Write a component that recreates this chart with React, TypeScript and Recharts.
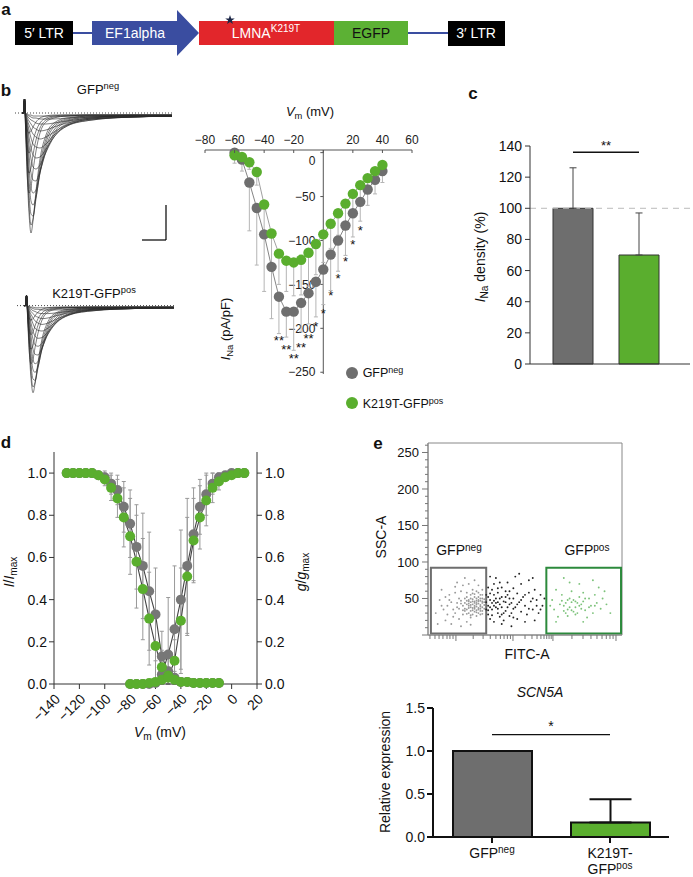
import React from 'react';
import {
  ComposedChart, LineChart, BarChart, ScatterChart, Line, Bar, Scatter, Cell,
  XAxis, YAxis, ErrorBar, ReferenceLine, ReferenceArea,
} from 'recharts';

const FONT = '"Liberation Sans", Arial, Helvetica, sans-serif';
const GREY = '#6e6e6e';
const GREEN = '#5aae2e';

// b: current sweeps (time in ms-ish units, current in arbitrary units)
const sweepTime = [0, 1.5, 2.5, 3.5, 5, 7, 9, 11, 14, 18, 24, 32, 45, 70, 110, 150];
const sweeps = [
  [0, 0, 14, -8, -55, -100, -120, -108, -78, -46, -22, -10, -5, -3, -3, -3],
  [0, 0, 14, -6, -45, -92, -112, -106, -82, -52, -26, -12, -6, -3, -3, -3],
  [0, 0, 14, -5, -38, -80, -101, -103, -86, -58, -30, -14, -7, -4, -3, -3],
  [0, 0, 14, -4, -30, -66, -88, -92, -84, -60, -34, -17, -8, -4, -3, -3],
  [0, 0, 14, -3, -24, -54, -74, -80, -77, -60, -37, -20, -9, -5, -3, -3],
  [0, 0, 14, -2, -18, -42, -60, -67, -68, -58, -39, -22, -11, -5, -3, -3],
  [0, 0, 14, -2, -14, -32, -46, -54, -56, -52, -39, -24, -12, -6, -4, -3],
  [0, 0, 14, -1, -10, -24, -35, -42, -45, -44, -36, -24, -13, -6, -4, -3],
  [0, 0, 14, -1, -8, -17, -25, -31, -34, -35, -31, -22, -13, -7, -4, -3],
  [0, 0, 14, 0, -6, -12, -17, -21, -24, -26, -24, -19, -12, -7, -4, -3],
  [0, 0, 14, 0, -4, -8, -11, -14, -16, -18, -17, -14, -10, -6, -4, -3],
  [0, 0, 14, 0, -3, -5, -7, -8, -10, -11, -11, -10, -8, -5, -4, -3],
  [0, 0, 14, 0, -2, -3, -4, -5, -5, -6, -6, -6, -5, -4, -3, -3],
  [0, 0, 14, 0, -1, -2, -2, -3, -3, -3, -3, -3, -3, -3, -2, -2],
  [0, 0, 14, -14, -58, -80, -74, -58, -38, -20, -9, -5, -3, -2, -2, -2],
  [0, 0, 14, -12, -45, -60, -55, -42, -27, -15, -7, -4, -3, -2, -2, -2],
  [0, 0, 14, -10, -32, -40, -36, -28, -18, -10, -5, -3, -2, -2, -2, -2],
  [0, 0, 14, -6, -16, -20, -18, -14, -9, -5, -3, -2, -2, -2, -2, -2],
];

// b: I-V relation
const ivVoltage = [-60, -55, -50, -45, -40, -35, -30, -25, -20, -15, -10, -5, 0, 5, 10, 15, 20, 25, 30, 35, 40];
const ivGfpNeg = [0, -8, -34, -63, -93, -130, -164, -181, -181, -171, -160, -147, -133, -116, -100, -83, -69, -56, -42, -31, -21];
const ivGfpNegSd = [12, 13, 55, 65, 65, 59, 42, 29, 44, 33, 35, 40, 40, 41, 35, 34, 27, 22, 18, 16, 13];
const ivK219T = [-3, -5, -11, -22, -59, -92, -115, -123, -125, -122, -114, -104, -93, -81, -69, -58, -47, -37, -29, -21, -14];
const ivK219TSd = [4, 5, 8, 15, 35, 40, 35, 35, 38, 40, 38, 35, 32, 28, 25, 22, 18, 14, 10, 8, 6];
const ivStarV = [-30, -25, -20, -15, -10, -5, 0, 5, 10, 15, 20, 25];
const ivStarY = [-211, -221, -231, -219, -209, -195, -180, -160, -140, -121, -102, -86];
const ivStarText = ['**', '**', '**', '**', '**', '*', '*', '*', '*', '*', '*', '*'];
const ivXTicks = [-80, -60, -40, -20, 0, 20, 40, 60];
const ivYTicks = [0, -50, -100, -150, -200, -250];

// c: current density
const densityGroups = ['GFPneg', 'K219T'];
const densityMean = [100, 70];
const densitySd = [26, 27];

// d: inactivation / activation
const inactV = [-130, -125, -120, -115, -110, -105, -100, -95, -90, -85, -80, -75, -70, -65, -60, -55, -50, -45, -40, -35, -30, -25, -20, -15, -10];
const inactGfpNeg = [1, 1, 1, 1, 1, 0.99, 0.98, 0.95, 0.92, 0.84, 0.76, 0.65, 0.56, 0.44, 0.33, 0.13, 0.06, 0.03, 0.01, 0.01, 0.005, 0.005, 0.005, 0.005, 0.005];
const inactGfpNegSd = [0, 0, 0, 0, 0, 0.01, 0.03, 0.05, 0.07, 0.12, 0.16, 0.2, 0.25, 0.28, 0.22, 0.12, 0.06, 0.03, 0.01, 0.01, 0, 0, 0, 0, 0];
const inactK219T = [1, 1, 1, 1, 1, 0.99, 0.97, 0.93, 0.88, 0.79, 0.7, 0.58, 0.45, 0.31, 0.18, 0.08, 0.04, 0.02, 0.01, 0.01, 0.005, 0.005, 0.005, 0.005, 0.005];
const inactK219TSd = [0, 0, 0, 0, 0.01, 0.01, 0.03, 0.06, 0.09, 0.14, 0.18, 0.22, 0.24, 0.22, 0.16, 0.08, 0.04, 0.02, 0.01, 0.01, 0, 0, 0, 0, 0];
const actV = [-80, -75, -70, -65, -60, -55, -50, -45, -40, -35, -30, -25, -20, -15, -10, -5, 0, 5, 10];
const actGfpNeg = [0, 0, 0, 0, 0.005, 0.045, 0.14, 0.26, 0.4, 0.56, 0.71, 0.84, 0.9, 0.95, 0.98, 0.99, 1, 1, 1];
const actGfpNegSd = [0, 0, 0, 0, 0.005, 0.04, 0.27, 0.3, 0.33, 0.32, 0.22, 0.13, 0.1, 0.05, 0.02, 0.01, 0, 0, 0];
const actK219T = [0, 0, 0, 0.005, 0.01, 0.02, 0.03, 0.11, 0.3, 0.51, 0.68, 0.79, 0.87, 0.93, 0.96, 0.98, 0.99, 1, 1];
const actK219TSd = [0, 0, 0, 0.005, 0.01, 0.02, 0.03, 0.1, 0.25, 0.28, 0.2, 0.15, 0.12, 0.07, 0.04, 0.02, 0.01, 0, 0];
const dXTicks = [-140, -120, -100, -80, -60, -40, -20, 0, 20];
const dYTicks = [0, 0.2, 0.4, 0.6, 0.8, 1.0];

// e: flow cytometry events [FITC-A, SSC-A]
const eventsNeg = [
  [24, 40], [25, 44], [23, 37], [26, 48], [27, 41], [22, 45], [25, 34], [28, 38], [21, 40], [24, 52], [26, 30], [27, 55],
  [23, 28], [29, 45], [20, 35], [22, 50], [25, 60], [28, 50], [19, 44], [26, 37], [24, 46], [27, 33], [21, 30], [23, 57],
  [28, 29], [25, 26], [20, 52], [22, 38], [26, 43], [29, 36], [18, 40], [24, 32], [27, 47], [21, 48], [23, 42], [15, 38],
  [16, 50], [14, 30], [17, 60], [12, 45], [13, 25], [10, 40], [16, 22], [18, 68], [11, 55], [8, 35], [9, 20], [6, 48],
  [15, 72], [19, 78], [12, 15], [20, 18], [17, 12], [7, 62], [4, 30], [21, 70], [14, 58], [10, 28], [26, 68], [24, 75],
  [22, 14], [28, 62], [5, 15], [19, 33], [17, 47], [20, 58], [25, 50], [22, 24], [18, 28], [16, 36],
  [19, 36], [20, 42], [21, 46], [22, 33], [23, 49], [24, 38], [25, 42], [26, 35], [27, 39], [28, 44], [29, 41], [20, 47],
  [21, 37], [22, 55], [23, 34], [24, 44], [25, 47], [26, 52], [27, 36], [28, 33], [19, 50], [21, 43], [22, 41], [23, 46],
  [24, 36], [25, 39], [26, 46], [27, 50], [28, 46], [29, 49], [18, 34], [20, 29], [22, 27], [24, 56], [26, 58], [28, 55],
  [17, 43], [23, 62], [25, 31], [27, 28], [13, 35], [11, 48], [15, 44], [9, 52], [14, 66], [7, 40],
];
const eventsMid = [
  [31, 40], [32, 48], [33, 35], [34, 55], [31, 28], [35, 44], [36, 30], [33, 62], [37, 50], [32, 22], [38, 38], [34, 70],
  [39, 46], [36, 58], [31, 52], [40, 33], [37, 25], [41, 55], [35, 38], [38, 65], [42, 42], [33, 44], [30, 35], [39, 20],
  [43, 30], [44, 50], [36, 45], [40, 60], [45, 38], [46, 57], [42, 26], [47, 45], [48, 32], [41, 72], [49, 52], [50, 40],
  [44, 64], [51, 28], [52, 58], [53, 46], [46, 22], [54, 35], [55, 62], [48, 70], [56, 48], [57, 30], [58, 55], [52, 75],
  [59, 40], [35, 78], [38, 15], [45, 80], [31, 65], [34, 18], [50, 18], [43, 12], [55, 20], [60, 50], [32, 80], [47, 84],
  [37, 72], [54, 78],
  [30, 45], [31, 34], [32, 57], [33, 27], [34, 40], [35, 50], [36, 36], [37, 42], [38, 52], [39, 30], [40, 45], [41, 38],
  [42, 50], [43, 44], [44, 36], [30, 55], [32, 38], [34, 47], [36, 64], [38, 28], [40, 52], [42, 60], [44, 24], [46, 42],
  [48, 48], [50, 55], [52, 36], [54, 50], [56, 40], [58, 35],
];
const eventsPos = [
  [70, 40], [72, 35], [74, 45], [76, 38], [71, 30], [73, 50], [75, 32], [77, 44], [79, 36], [78, 52], [68, 42], [69, 55],
  [72, 26], [74, 60], [76, 28], [80, 46], [81, 34], [83, 50], [82, 24], [84, 40], [86, 55], [85, 30], [87, 44], [89, 36],
  [90, 50], [65, 35], [64, 48], [66, 62], [67, 25], [63, 40], [88, 65], [78, 70], [73, 72], [92, 42], [94, 30], [91, 60],
  [66, 18], [80, 18], [85, 75], [70, 78],
  [71, 44], [73, 38], [75, 48], [77, 30], [79, 42], [81, 50], [76, 46], [72, 48], [74, 34], [78, 40], [83, 38], [70, 33],
  [69, 47], [80, 58], [86, 40],
];
const fitcMajor = [14.4, 43.8, 64.4, 96.9];
const fitcMinor = [1, 3.6, 5.7, 7.7, 9.8, 11.3, 12.9, 23.3, 28.4, 32.1, 35, 37.3, 39.2, 40.9, 42.5,
  50, 53.6, 56.2, 58.2, 59.8, 61.2, 62.4, 63.5, 74.2, 79.9, 84, 87.1, 89.7, 91.9, 93.8, 95.4];
const sscTicks = [0, 10, 20, 30, 40, 50, 60, 70, 80, 90, 100, 110, 120, 130, 140, 150, 160, 170, 180, 190, 200, 210, 220, 230, 240, 250, 260];

// e: SCN5A qPCR
const exprGroups = ['GFPneg', 'K219T'];
const exprMean = [1.0, 0.17];
const exprSd = [0, 0.27];

const fmt = (v: number) => String(v).replace('-', '\u2212');

const sweepRows = sweepTime.map((t, i) => {
  const row: any = { t };
  sweeps.forEach((s, k) => { row['s' + k] = s[i]; });
  return row;
});
const ivRows = (vals: number[], sds: number[]) => ivVoltage.map((v, k) => ({ v, i: vals[k], e: [sds[k], 0] }));
const starRows = ivStarV.map((v, k) => ({ v, i: ivStarY[k], s: ivStarText[k] }));
// error bars are not drawn below zero
const dRows = (vs: number[], ys: number[], sds: number[]) =>
  vs.map((v, k) => ({ v, y: ys[k], e: [Math.min(sds[k], ys[k]), sds[k]] }));
const evRows = (pts: number[][]) => pts.map(([x, y]) => ({ x, y }));
const densityRows = densityGroups.map((name, k) => ({ name, val: densityMean[k], err: [0, densitySd[k]] }));
const exprRows = exprGroups.map((name, k) => ({ name, val: exprMean[k], err: exprSd[k] ? [0, exprSd[k]] : null }));

const Sub = ({ children }: any) => <span style={{ fontSize: '0.72em', verticalAlign: '-0.3em' }}>{children}</span>;
const Sup = ({ children }: any) => <span style={{ fontSize: '0.72em', verticalAlign: '0.45em' }}>{children}</span>;

function Txt({ x, y, size = 13, bold = false, italic = false, rotate = false, children }: any) {
  return (
    <div style={{
      position: 'absolute', left: x, top: y, fontSize: size, lineHeight: 1, whiteSpace: 'nowrap',
      fontWeight: bold ? 700 : 400, fontStyle: italic ? 'italic' : 'normal',
      transform: 'translate(-50%, -50%)' + (rotate ? ' rotate(-90deg)' : ''),
    }}>{children}</div>
  );
}

const Box = ({ x, y, children }: any) => <div style={{ position: 'absolute', left: x, top: y }}>{children}</div>;

function Construct() {
  const blue = '#3a4da0';
  return (
    <svg width={520} height={62} style={{ position: 'absolute', left: 0, top: 0 }} fontSize={14}>
      <line x1={73} y1={33} x2={92} y2={33} stroke={blue} strokeWidth={2} />
      <line x1={408} y1={33} x2={448} y2={33} stroke={blue} strokeWidth={2} />
      <rect x={15} y={21} width={58} height={24} fill="#000" />
      <text x={44} y={38} fill="#fff" textAnchor="middle">5′ LTR</text>
      <polygon points="92,21 177,21 177,10 199,33 177,56 177,45 92,45" fill={blue} />
      <text x={135} y={38} fill="#fff" textAnchor="middle">EF1alpha</text>
      <rect x={199} y={21} width={135} height={24} fill="#e2262b" />
      <text x={266} y={38} fill="#fff" textAnchor="middle">LMNA<tspan dy={-6} fontSize={10}>K219T</tspan></text>
      <polygon transform="translate(230 20)" fill="#1d2747"
        points="0,-5 1.18,-1.62 4.76,-1.55 1.9,0.62 2.94,4.05 0,2 -2.94,4.05 -1.9,0.62 -4.76,-1.55 -1.18,-1.62" />
      <rect x={334} y={21} width={74} height={24} fill="#5cb134" />
      <text x={371} y={38} fill="#111" textAnchor="middle">EGFP</text>
      <rect x={448} y={21} width={57} height={25} fill="#000" />
      <text x={476} y={38} fill="#fff" textAnchor="middle">3′ LTR</text>
    </svg>
  );
}

function Sweeps({ height, scaleBar }: { height: number; scaleBar?: boolean }) {
  return (
    <LineChart width={157} height={height} data={sweepRows} margin={{ top: 0, right: 0, bottom: 0, left: 0 }}>
      <XAxis type="number" dataKey="t" domain={[-7, 150]} hide />
      <YAxis type="number" domain={[-130, 16]} hide />
      <ReferenceLine y={0} stroke="#444" strokeDasharray="1 2" />
      {sweeps.map((_, k) => (
        <Line key={k} dataKey={'s' + k} type="monotone" stroke="#2a2a2a" strokeWidth={0.6}
          dot={false} activeDot={false} isAnimationActive={false} />
      ))}
      {scaleBar && <ReferenceLine segment={[{ x: 144, y: -92 }, { x: 144, y: -127 }]} stroke="#000" strokeWidth={1.2} ifOverflow="visible" />}
      {scaleBar && <ReferenceLine segment={[{ x: 120, y: -127 }, { x: 144, y: -127 }]} stroke="#000" strokeWidth={1.2} ifOverflow="visible" />}
    </LineChart>
  );
}

function IvXTick({ x, y, payload }: any) {
  return (
    <g>
      <line x1={x} y1={y} x2={x} y2={y + 3} stroke="#555" />
      {payload.value !== 0 && (
        <text x={x} y={y - 6.5} textAnchor="middle" fontSize={12} fill="#222">{fmt(payload.value)}</text>
      )}
    </g>
  );
}

const ivYLabel = (v: number) => (props: any) => {
  const vb = props.viewBox || { x: 0, y: 0 };
  return (
    <text x={vb.x - 5} y={vb.y + (v === 0 ? 8 : 0)} dy="0.35em" textAnchor="end" fontSize={12} fill="#222">{fmt(v)}</text>
  );
};

const starShape = (p: any) => (
  <text x={p.cx} y={p.cy + 7} textAnchor="middle" fontSize={13} fill="#111">{p.payload.s}</text>
);

function IvChart() {
  return (
    <ComposedChart width={230} height={310} margin={{ top: 30, right: 13, bottom: 36, left: 10 }}>
      <XAxis type="number" dataKey="v" orientation="top" domain={[-80, 60]} ticks={ivXTicks} interval={0}
        height={20} tickSize={0} tickMargin={0} tickLine={false} axisLine={{ stroke: '#555' }} tick={IvXTick} />
      <YAxis type="number" dataKey="i" domain={[-252, 3]} hide />
      <ReferenceLine x={0} stroke="#555" />
      {ivYTicks.map((t) => (
        <ReferenceLine key={t} segment={[{ x: -2, y: t }, { x: 0, y: t }]} stroke="#555" label={ivYLabel(t)} />
      ))}
      <Line data={ivRows(ivGfpNeg, ivGfpNegSd)} dataKey="i" stroke="#666" strokeWidth={0.8} isAnimationActive={false}
        dot={{ r: 5.2, fill: GREY, stroke: 'none' }} activeDot={false}>
        <ErrorBar dataKey="e" width={2} stroke="#b5b5b5" strokeWidth={1} />
      </Line>
      <Line data={ivRows(ivK219T, ivK219TSd)} dataKey="i" stroke="#888" strokeWidth={0.8} isAnimationActive={false}
        dot={{ r: 5.2, fill: GREEN, stroke: 'none' }} activeDot={false}>
        <ErrorBar dataKey="e" width={2} stroke="#b5b5b5" strokeWidth={1} />
      </Line>
      <Scatter data={starRows} dataKey="i" shape={starShape} isAnimationActive={false} />
    </ComposedChart>
  );
}

function DensityChart() {
  const colors = [GREY, GREEN];
  return (
    <BarChart width={223} height={260} data={densityRows} margin={{ top: 26, right: 3, bottom: 0, left: 0 }} barSize={40}>
      <XAxis dataKey="name" tick={false} tickLine={false} height={16} axisLine={{ stroke: '#333' }} padding={{ left: 10, right: 18 }} />
      <YAxis type="number" domain={[0, 140]} ticks={[0, 20, 40, 60, 80, 100, 120, 140]} interval={0} width={60}
        tickSize={5} tickMargin={3} axisLine={{ stroke: '#333' }} tickLine={{ stroke: '#333' }}
        tick={{ fontSize: 14, fill: '#111' }} />
      <ReferenceLine y={100} stroke="#bbb" strokeDasharray="6 5" />
      <Bar dataKey="val" stroke="#333" strokeWidth={1} isAnimationActive={false}>
        {densityRows.map((r, k) => <Cell key={r.name} fill={colors[k]} />)}
        <ErrorBar dataKey="err" width={3.5} stroke="#444" strokeWidth={1} />
      </Bar>
      <ReferenceLine segment={[{ x: 'GFPneg', y: 136 }, { x: 'K219T', y: 136 }]} stroke="#111" strokeWidth={1.4}
        label={{ value: '**', position: 'top', fontSize: 13, fill: '#111', offset: 2 }} />
    </BarChart>
  );
}

function DXTick({ x, y, payload }: any) {
  const ax = x + 7;
  const ay = y + 9;
  return (
    <text x={ax} y={ay} textAnchor="end" fontSize={14} fill="#111" transform={`rotate(-45 ${ax} ${ay})`}>{fmt(payload.value)}</text>
  );
}

function KineticsChart() {
  const dotG = { r: 5, fill: '#777', stroke: 'none' };
  const dotN = { r: 5, fill: GREEN, stroke: 'none' };
  const yProps = {
    type: 'number' as const, dataKey: 'y', domain: [0, 1.1], ticks: dYTicks, interval: 0 as const,
    tickSize: 5, axisLine: { stroke: '#333' }, tickLine: { stroke: '#333' },
    tick: { fontSize: 14, fill: '#111' }, tickFormatter: (v: number) => v.toFixed(1),
  };
  return (
    <ComposedChart width={330} height={320} margin={{ top: 22, right: 28, bottom: 26, left: 8 }}>
      <XAxis type="number" dataKey="v" domain={[-140, 20]} ticks={dXTicks} interval={0} height={40}
        tickSize={5} axisLine={{ stroke: '#333' }} tickLine={{ stroke: '#333' }} tick={DXTick} />
      <YAxis yAxisId="l" width={46} tickMargin={2} {...yProps} />
      <YAxis yAxisId="r" orientation="right" width={45} tickMargin={3} {...yProps} />
      <Line yAxisId="l" data={dRows(inactV, inactGfpNeg, inactGfpNegSd)} dataKey="y" stroke="#444" strokeWidth={1.1}
        dot={dotG} activeDot={false} isAnimationActive={false}>
        <ErrorBar dataKey="e" width={2} stroke="#999" strokeWidth={1} />
      </Line>
      <Line yAxisId="r" data={dRows(actV, actGfpNeg, actGfpNegSd)} dataKey="y" stroke="#444" strokeWidth={1.1}
        dot={dotG} activeDot={false} isAnimationActive={false}>
        <ErrorBar dataKey="e" width={2} stroke="#999" strokeWidth={1} />
      </Line>
      <Line yAxisId="l" data={dRows(inactV, inactK219T, inactK219TSd)} dataKey="y" stroke="#444" strokeWidth={1.1}
        dot={dotN} activeDot={false} isAnimationActive={false}>
        <ErrorBar dataKey="e" width={2} stroke="#999" strokeWidth={1} />
      </Line>
      <Line yAxisId="r" data={dRows(actV, actK219T, actK219TSd)} dataKey="y" stroke="#444" strokeWidth={1.1}
        dot={dotN} activeDot={false} isAnimationActive={false}>
        <ErrorBar dataKey="e" width={2} stroke="#999" strokeWidth={1} />
      </Line>
    </ComposedChart>
  );
}

function FitcTick({ x, y, payload }: any) {
  const major = fitcMajor.includes(payload.value);
  return <line x1={x} y1={y} x2={x} y2={y + (major ? 6 : 4)} stroke="#777" />;
}

function SscTick({ x, y, payload }: any) {
  const major = payload.value % 50 === 0;
  return (
    <g>
      <line x1={x - (major ? 6 : 3)} y1={y} x2={x} y2={y} stroke="#777" />
      {major && payload.value > 0 && (
        <text x={x - 9} y={y} dy="0.35em" textAnchor="end" fontSize={13} fill="#111">{payload.value}</text>
      )}
    </g>
  );
}

const eventShape = (color: string) => (p: any) => <circle cx={p.cx} cy={p.cy} r={0.95} fill={color} />;

function FlowChart() {
  return (
    <ScatterChart width={260} height={230} margin={{ top: 13, right: 8, bottom: 14, left: 0 }}>
      <XAxis type="number" dataKey="x" domain={[0, 100]} ticks={[...fitcMinor, ...fitcMajor].sort((a, b) => a - b)}
        interval={0} height={11} tickSize={0} tickMargin={0} tickLine={false} axisLine={{ stroke: '#888' }} tick={FitcTick} />
      <YAxis type="number" dataKey="y" domain={[0, 263]} ticks={sscTicks} interval={0} width={58}
        tickSize={0} tickMargin={0} tickLine={false} axisLine={{ stroke: '#888' }} tick={SscTick} />
      <ReferenceArea x1={0} x2={100} y1={0} y2={263} fill="none" stroke="#888" />
      <Scatter data={evRows(eventsNeg)} shape={eventShape('#999')} isAnimationActive={false} />
      <Scatter data={evRows(eventsMid)} shape={eventShape('#222')} isAnimationActive={false} />
      <Scatter data={evRows(eventsPos)} shape={eventShape('#7cc27a')} isAnimationActive={false} />
      <ReferenceArea x1={1.5} x2={30} y1={2} y2={92} fill="none" fillOpacity={0} stroke="#6e6e6e" strokeWidth={2} />
      <ReferenceArea x1={61} x2={99.5} y1={2} y2={92} fill="none" fillOpacity={0} stroke="#2c8a3c" strokeWidth={2} />
    </ScatterChart>
  );
}

function ETick({ x, y, payload }: any) {
  if (payload.value === 'GFPneg') {
    return (
      <text x={x} y={y + 11} textAnchor="middle" fontSize={14} fill="#111">GFP<tspan dy={-5} fontSize={10}>neg</tspan></text>
    );
  }
  return (
    <text textAnchor="middle" fontSize={14} fill="#111">
      <tspan x={x} y={y + 11}>K219T-</tspan>
      <tspan x={x} y={y + 27}>GFP</tspan><tspan dy={-5} fontSize={10}>pos</tspan>
    </text>
  );
}

function ExpressionChart() {
  const colors = [GREY, GREEN];
  return (
    <BarChart width={310} height={187} data={exprRows} margin={{ top: 18, right: 11, bottom: 0, left: 0 }} barSize={79}>
      <XAxis dataKey="name" height={40} tickSize={6} tickMargin={4} interval={0}
        axisLine={{ stroke: '#111', strokeWidth: 2 }} tickLine={{ stroke: '#111', strokeWidth: 2 }} tick={ETick} />
      <YAxis type="number" domain={[0, 1.5]} ticks={[0, 0.5, 1, 1.5]} interval={0} width={63}
        tickSize={6} tickMargin={2} axisLine={{ stroke: '#111', strokeWidth: 2 }} tickLine={{ stroke: '#111', strokeWidth: 2 }}
        tick={{ fontSize: 14, fill: '#111' }} tickFormatter={(v: number) => v.toFixed(1)} />
      <Bar dataKey="val" stroke="#111" strokeWidth={2} isAnimationActive={false}>
        {exprRows.map((r, k) => <Cell key={r.name} fill={colors[k]} />)}
        <ErrorBar dataKey="err" width={21} stroke="#111" strokeWidth={2} />
      </Bar>
      <ReferenceLine segment={[{ x: 'GFPneg', y: 1.19 }, { x: 'K219T', y: 1.19 }]} stroke="#111" strokeWidth={1.4}
        label={{ value: '*', position: 'top', fontSize: 14, fill: '#111', offset: 4 }} />
    </BarChart>
  );
}

export default function App() {
  return (
    <div style={{
      position: 'absolute', left: 0, top: 0, width: 693, height: 877, overflow: 'hidden',
      background: '#fff', fontFamily: FONT, color: '#111',
    }}>
      <Construct />
      <Txt x={6} y={9} size={17} bold>a</Txt>

      <Txt x={6} y={90} size={17} bold>b</Txt>
      <Txt x={98} y={89} size={13}>GFP<Sup>neg</Sup></Txt>
      <Box x={15} y={97}><Sweeps height={146} scaleBar /></Box>
      <Txt x={94} y={293} size={13}>K219T-GFP<Sup>pos</Sup></Txt>
      <Box x={17} y={294}><Sweeps height={106} /></Box>

      <Box x={195} y={100}><IvChart /></Box>
      <Txt x={310} y={113} size={13}><i>V</i><Sub>m</Sub> (mV)</Txt>
      <Txt x={227} y={329} size={13} rotate><i>I</i><Sub>Na</Sub> (pA/pF)</Txt>
      <div style={{ position: 'absolute', left: 346, top: 367, width: 12, height: 12, borderRadius: 6, background: GREY }} />
      <Txt x={383} y={373} size={12.5}>GFP<Sup>neg</Sup></Txt>
      <div style={{ position: 'absolute', left: 346, top: 397, width: 12, height: 12, borderRadius: 6, background: GREEN }} />
      <Txt x={403} y={404} size={12.5}>K219T-GFP<Sup>pos</Sup></Txt>

      <Txt x={473} y={93} size={17} bold>c</Txt>
      <Box x={470} y={120}><DensityChart /></Box>
      <Txt x={482} y={257} size={14} rotate><i>I</i><Sub>Na</Sub> density (%)</Txt>

      <Txt x={6} y={442} size={17} bold>d</Txt>
      <Box x={0} y={430}><KineticsChart /></Box>
      <Txt x={160} y={734} size={14}><i>V</i><Sub>m</Sub> (mV)</Txt>
      <Txt x={11} y={572} size={14} rotate><i>I</i>/<i>I</i><Sub>max</Sub></Txt>
      <Txt x={303} y={572} size={14} rotate><i>g</i>/<i>g</i><Sub>max</Sub></Txt>

      <Txt x={378} y={443} size={17} bold>e</Txt>
      <Box x={370} y={430}><FlowChart /></Box>
      <Txt x={381} y={537} size={14} rotate>SSC-A</Txt>
      <Txt x={527} y={654} size={14}>FITC-A</Txt>
      <Txt x={459} y={550} size={14}>GFP<Sup>neg</Sup></Txt>
      <Txt x={587} y={550} size={14}>GFP<Sup>pos</Sup></Txt>

      <Txt x={540} y={692} size={14} italic>SCN5A</Txt>
      <Box x={370} y={690}><ExpressionChart /></Box>
      <Txt x={385} y={772} size={14} rotate>Relative expression</Txt>
    </div>
  );
}
